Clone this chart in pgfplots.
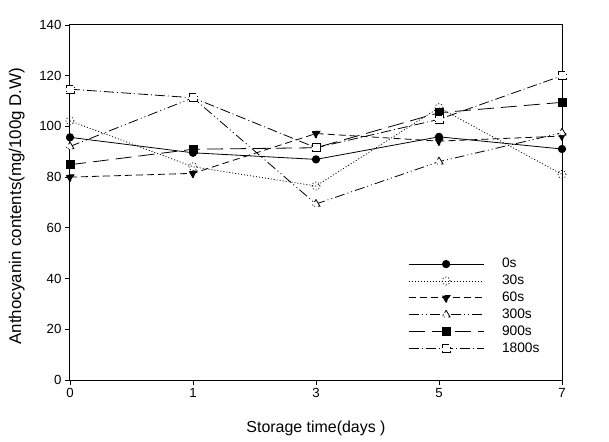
\documentclass[border=0pt]{standalone}
\usepackage{fontspec}
\setmainfont{Liberation Sans}
\usepackage{pgfplots}
\pgfplotsset{compat=1.18}
\begin{document}
\begin{tikzpicture}
\useasboundingbox (-70bp,-62bp) rectangle (539bp,380bp);
\begin{axis}[
  scale only axis, width=492bp, height=355bp,
  xmin=0, xmax=4, ymin=0, ymax=140,
  xtick={0,1,2,3,4}, xticklabels={0,1,3,5,7},
  ytick={0,20,...,140},
  tick align=outside, xtick pos=bottom, ytick pos=left,
  major tick length=5bp,
  axis line style={line width=1bp},
  every tick/.style={line width=0.8bp, black},
  font=\fontsize{13.3}{16}\selectfont,
  /pgf/number format/assume math mode=true,
  xlabel={Storage time(days )},
  ylabel={Anthocyanin contents(mg/100g D.W)},
  xlabel style={at={(axis description cs:0.5,-0.135)}, anchor=center, font=\fontsize{16}{19}\selectfont},
  ylabel style={at={(axis description cs:-0.108,0.49)}, anchor=center, font=\fontsize{17}{20}\selectfont},
  legend style={at={(0.681,0.351)}, anchor=north west, draw=none, fill=none,
    font=\fontsize{13.8}{16}\selectfont,
    nodes={inner sep=0pt, text height=10bp, text depth=3bp},
    row sep=3.9bp,
    /tikz/every odd column/.append style={column sep=18bp}},
  legend cell align=left,
  legend image code/.code={\draw[mark repeat=2,mark phase=2,#1] plot coordinates {(0bp,0bp) (37.5bp,0bp) (75bp,0bp)};},
  every axis plot/.append style={black, line width=0.8bp, mark size=3.7bp, mark options={solid}},
]
\addplot[solid, mark=*] coordinates {(0,95.7) (1,89.6) (2,87.0) (3,95.9) (4,91.1)};
\addlegendentry{0s}
\addplot[dash pattern=on 1bp off 2bp, mark=o, mark size=4bp, mark options={fill=white}] coordinates {(0,102.2) (1,84.1) (2,76.5) (3,107.4) (4,81.1)};
\addlegendentry{30s}
\addplot[dash pattern=on 7bp off 4bp, mark=triangle*, mark size=4.6bp, mark options={rotate=180}] coordinates {(0,80.0) (1,81.5) (2,97.2) (3,94.2) (4,96.2)};
\addlegendentry{60s}
\addplot[dash pattern=on 10bp off 3bp on 1bp off 3bp on 1bp off 3bp, mark=triangle*, mark size=4.6bp, mark options={fill=white}] coordinates {(0,92.1) (1,111.3) (2,69.4) (3,86.1) (4,97.5)};
\addlegendentry{300s}
\addplot[dash pattern=on 16bp off 7bp, mark=square*, mark size=4bp] coordinates {(0,84.9) (1,91.0) (2,91.6) (3,105.4) (4,109.5)};
\addlegendentry{900s}
\addplot[dash pattern=on 10bp off 3bp on 1bp off 3bp, mark=square*, mark size=4bp, mark options={fill=white}] coordinates {(0,114.7) (1,111.3) (2,91.6) (3,102.8) (4,120.0)};
\addlegendentry{1800s}
\end{axis}
\end{tikzpicture}
\end{document}
